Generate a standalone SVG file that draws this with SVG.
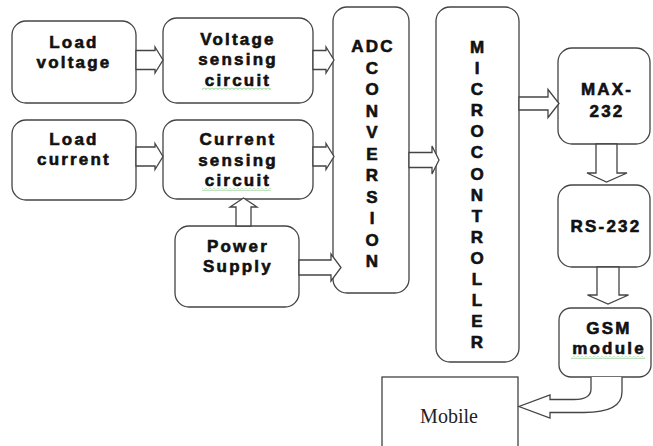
<svg xmlns="http://www.w3.org/2000/svg" width="653" height="446" viewBox="0 0 653 446">
<style>
.box{fill:#fff;stroke:#444;stroke-width:1.3}
.arr{fill:#fff;stroke:#444;stroke-width:1.3;stroke-linejoin:miter}
.t{font-family:"Liberation Sans",Arial,sans-serif;font-weight:bold;font-size:17px;letter-spacing:2.2px;text-anchor:middle;fill:#111;stroke:#111;stroke-width:0.6}
.v{letter-spacing:0}
.m{font-family:"Liberation Serif","Times New Roman",serif;font-size:20px;text-anchor:middle;fill:#222}
.sq{fill:url(#wave)}
</style>
<defs>
<pattern id="wave" width="4" height="3" patternUnits="userSpaceOnUse">
<polyline points="0,0.5 2,2.5 4,0.5" fill="none" stroke="#6cbf6c" stroke-width="0.9"/>
</pattern>
</defs>
<g id="load-voltage">
<rect class="box" x="12" y="21" width="124" height="82" rx="14"/>
<text class="t" x="74" y="47.5">Load</text>
<text class="t" x="74" y="68">voltage</text>
</g>
<g id="voltage-sensing">
<rect class="box" x="163" y="18" width="150" height="85" rx="14"/>
<text class="t" x="238" y="44.5">Voltage</text>
<text class="t" x="238" y="65">sensing</text>
<text class="t" x="238" y="85.5">circuit</text>
<rect class="sq" x="202" y="87.5" width="69" height="3"/>
</g>
<g id="load-current">
<rect class="box" x="12" y="120" width="124" height="80" rx="14"/>
<text class="t" x="74" y="144.5">Load</text>
<text class="t" x="74" y="165">current</text>
</g>
<g id="current-sensing">
<rect class="box" x="163" y="120" width="150" height="79" rx="14"/>
<text class="t" x="238" y="144.5">Current</text>
<text class="t" x="238" y="166">sensing</text>
<text class="t" x="238" y="186">circuit</text>
<rect class="sq" x="202" y="188" width="69" height="3"/>
</g>
<g id="power-supply">
<rect class="box" x="175" y="226" width="124" height="81" rx="14"/>
<text class="t" x="238" y="252">Power</text>
<text class="t" x="238" y="272">Supply</text>
</g>
<g id="adc">
<rect class="box" x="333" y="7" width="76" height="286" rx="14"/>
<text class="t" x="373" y="52">ADC</text>
<g class="t v">
<text x="372" y="73.5">C</text>
<text x="372" y="95">O</text>
<text x="372" y="116.5">N</text>
<text x="372" y="138">V</text>
<text x="372" y="159.5">E</text>
<text x="372" y="181">R</text>
<text x="372" y="202.5">S</text>
<text x="372" y="224">I</text>
<text x="372" y="245.5">O</text>
<text x="372" y="267">N</text>
</g>
</g>
<g id="microcontroller">
<rect class="box" x="436" y="7" width="83" height="355" rx="14"/>
<g class="t v">
<text x="477" y="53">M</text>
<text x="477" y="74">I</text>
<text x="477" y="95">C</text>
<text x="477" y="116">R</text>
<text x="477" y="137">O</text>
<text x="477" y="158">C</text>
<text x="477" y="179.5">O</text>
<text x="477" y="200.5">N</text>
<text x="477" y="221.5">T</text>
<text x="477" y="242.5">R</text>
<text x="477" y="263.5">O</text>
<text x="477" y="285">L</text>
<text x="477" y="306">L</text>
<text x="477" y="327">E</text>
<text x="477" y="348">R</text>
</g>
</g>
<g id="max232">
<rect class="box" x="558" y="48" width="92" height="96" rx="14"/>
<text class="t" x="607" y="95">MAX-</text>
<text class="t" x="607" y="117">232</text>
</g>
<g id="rs232">
<rect class="box" x="558" y="185" width="92" height="82" rx="14"/>
<text class="t" x="606" y="232">RS-232</text>
</g>
<g id="gsm">
<rect class="box" x="559" y="308" width="92" height="69" rx="12"/>
<text class="t" x="609" y="334">GSM</text>
<text class="t" x="609" y="354">module</text>
<rect class="sq" x="571" y="356" width="74" height="3"/>
</g>
<g id="mobile">
<rect x="382" y="377" width="136" height="80" fill="#fff" stroke="#333" stroke-width="1.2"/>
<text class="m" x="449" y="423">Mobile</text>
</g>
<g id="connectors">
<polygon class="arr" points="136,50.5 155,50.5 155,47 163,60 155,73 155,69.5 136,69.5"/>
<polygon class="arr" points="313,50.5 326,50.5 326,47 334,60 326,73 326,69.5 313,69.5"/>
<polygon class="arr" points="136,147 155,147 155,143.5 163,156.5 155,169.5 155,166 136,166"/>
<polygon class="arr" points="313,147 326,147 326,143.5 334,156.5 326,169.5 326,166 313,166"/>
<polygon class="arr" points="236,226 236,207 230,207 243.5,198 257,207 251,207 251,226"/>
<polygon class="arr" points="299,260 331,260 331,254 341,267.5 331,281 331,275 299,275"/>
<polygon class="arr" points="409,152.5 432,152.5 432,146 439,160 432,174 432,167.5 409,167.5"/>
<polygon class="arr" points="519,97 548,97 548,89.5 559,103.5 548,117.5 548,110 519,110"/>
<polygon class="arr" points="596,144 596,173 587,173 606.5,182 627,173 617,173 617,144"/>
<polygon class="arr" points="597,267 597,295 587.5,295 608,304 628.5,295 619,295 619,267"/>
<path class="arr" d="M591,377 L591,389 Q591,399.5 574,399.5 L550,399.5 L550,395 L519,406.5 L550,418 L550,412.5 L584,412.5 Q622,412.5 622,392 L622,377"/>
</g>
</svg>
